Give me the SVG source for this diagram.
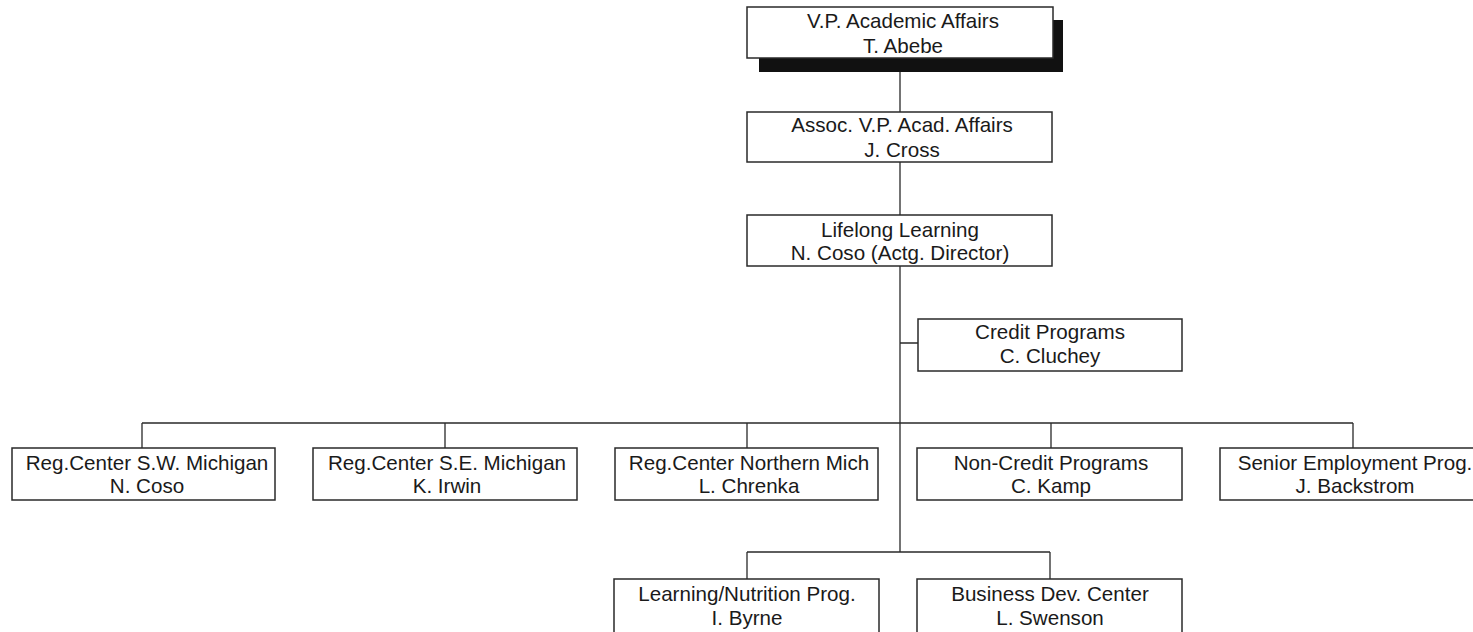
<svg xmlns="http://www.w3.org/2000/svg" width="1473" height="632" viewBox="0 0 1473 632">
<style>
.box{fill:#fff;stroke:#2a2a2a;stroke-width:1.5}
.shadow{fill:#111}
.t{font-family:"Liberation Sans",Arial,sans-serif;font-size:20.6px;fill:#1a1a1a;text-anchor:middle}
.c{stroke:#2a2a2a;stroke-width:1.3;fill:none}
</style>
<rect width="1473" height="632" fill="#fff"/>
<g id="connectors">
<path class="c" d="M900 72V112M900 162V215M900 266V552M900 343H918M142 423H1353M142 423V448M445 423V448M747 423V448M1051 423V448M1353 423V448M747 552H1050M747 552V579M1050 552V579"/>
</g>
<g id="vp">
<rect class="shadow" x="759" y="20" width="304" height="52"/>
<rect class="box" x="747" y="7" width="306" height="51"/>
<text class="t" x="903" y="28">V.P. Academic Affairs</text>
<text class="t" x="903" y="53">T. Abebe</text>
</g>
<g id="assoc">
<rect class="box" x="747" y="112" width="305" height="50"/>
<text class="t" x="902" y="132">Assoc. V.P. Acad. Affairs</text>
<text class="t" x="902" y="157">J. Cross</text>
</g>
<g id="lifelong">
<rect class="box" x="747" y="215" width="305" height="51"/>
<text class="t" x="900" y="237">Lifelong Learning</text>
<text class="t" x="900" y="260">N. Coso (Actg. Director)</text>
</g>
<g id="credit">
<rect class="box" x="918" y="319" width="264" height="52"/>
<text class="t" x="1050" y="339">Credit Programs</text>
<text class="t" x="1050" y="363">C. Cluchey</text>
</g>
<g id="sw">
<rect class="box" x="12" y="448" width="263" height="52"/>
<text class="t" x="147" y="470">Reg.Center S.W. Michigan</text>
<text class="t" x="147" y="493">N. Coso</text>
</g>
<g id="se">
<rect class="box" x="313" y="448" width="264" height="52"/>
<text class="t" x="447" y="470">Reg.Center S.E. Michigan</text>
<text class="t" x="447" y="493">K. Irwin</text>
</g>
<g id="northern">
<rect class="box" x="615" y="448" width="263" height="52"/>
<text class="t" x="749" y="470">Reg.Center Northern Mich</text>
<text class="t" x="749" y="493">L. Chrenka</text>
</g>
<g id="noncredit">
<rect class="box" x="917" y="448" width="265" height="52"/>
<text class="t" x="1051" y="470">Non-Credit Programs</text>
<text class="t" x="1051" y="493">C. Kamp</text>
</g>
<g id="senior">
<rect class="box" x="1220" y="448" width="264" height="52"/>
<text class="t" x="1355" y="470">Senior Employment Prog.</text>
<text class="t" x="1355" y="493">J. Backstrom</text>
</g>
<g id="learning">
<rect class="box" x="614" y="579" width="265" height="60"/>
<text class="t" x="747" y="601">Learning/Nutrition Prog.</text>
<text class="t" x="747" y="625">I. Byrne</text>
</g>
<g id="business">
<rect class="box" x="917" y="579" width="265" height="60"/>
<text class="t" x="1050" y="601">Business Dev. Center</text>
<text class="t" x="1050" y="625">L. Swenson</text>
</g>
</svg>
